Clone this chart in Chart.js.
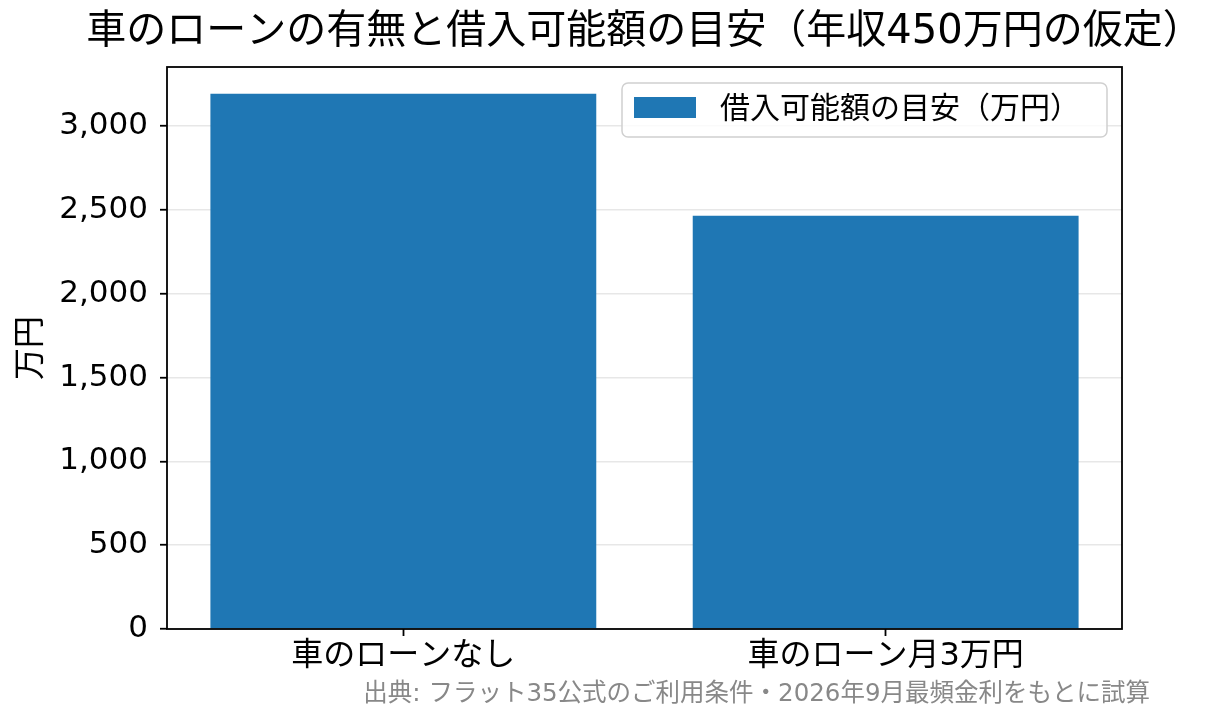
<!DOCTYPE html>
<html lang="ja">
<head>
<meta charset="utf-8">
<title>車のローンの有無と借入可能額の目安</title>
<script src="https://cdn.jsdelivr.net/npm/chart.js@4/dist/chart.umd.min.js"></script>
<style>
  html, body { margin: 0; padding: 0; background: #fff; }
  #chart { display: block; }
</style>
</head>
<body>
<canvas id="chart" width="1219" height="725"></canvas>
<script>
// data
const categories = ['車のローンなし', '車のローン月3万円'];
const borrowable = [3192, 2465];
const yTicks = [0, 500, 1000, 1500, 2000, 2500, 3000];
const seriesLabel = '借入可能額の目安（万円）';
const chartTitle = '車のローンの有無と借入可能額の目安（年収450万円の仮定）';
const sourceNote = '出典: フラット35公式のご利用条件・2026年9月最頻金利をもとに試算';

// latin glyphs from DejaVu, kana/kanji fall through to Noto CJK
const FONT = "'DejaVu Sans', 'Noto Sans CJK JP', sans-serif";
const BAR = '#1f77b4';

// title centred over the axes (wider than the plot, so not squeezed), frame, legend, source note
const extras = {
  id: 'extras',
  afterDraw(chart) {
    const ctx = chart.ctx;
    const a = chart.chartArea;
    ctx.save();
    // title
    ctx.fillStyle = '#000';
    ctx.font = '40px ' + FONT;
    ctx.textAlign = 'center';
    ctx.textBaseline = 'middle';
    ctx.fillText(chartTitle, (a.left + a.right) / 2, 33);

    // spines
    ctx.strokeStyle = '#000';
    ctx.lineWidth = 1.8;
    ctx.strokeRect(a.left, a.top, a.right - a.left, a.bottom - a.top);

    // legend
    const ds = chart.data.datasets[0];
    const bw = 485, bh = 54;
    const bx = a.right - 15 - bw, by = a.top + 16;
    ctx.beginPath();
    ctx.roundRect(bx, by, bw, bh, 6);
    ctx.fillStyle = 'rgba(255,255,255,0.8)';
    ctx.fill();
    ctx.strokeStyle = '#d0d0d0';
    ctx.lineWidth = 1.5;
    ctx.stroke();
    ctx.fillStyle = ds.backgroundColor;
    ctx.fillRect(bx + 12, by + 14, 62, 21);
    ctx.fillStyle = '#000';
    ctx.font = '30px ' + FONT;
    ctx.textAlign = 'left';
    ctx.fillText(ds.label, bx + 98, by + bh / 2);

    // source note
    ctx.fillStyle = '#888888';
    ctx.font = '24.5px ' + FONT;
    ctx.textAlign = 'right';
    ctx.fillText(sourceNote, 1150, 695);
    ctx.restore();
  }
};

new Chart(document.getElementById('chart'), {
  type: 'bar',
  data: {
    datasets: [{
      label: seriesLabel,
      data: borrowable.map((v, i) => ({ x: i, y: v })),
      backgroundColor: BAR,
      borderWidth: 0,
      barPercentage: 0.8,
      categoryPercentage: 1.0
    }]
  },
  options: {
    responsive: false,
    animation: false,
    devicePixelRatio: 1,
    layout: { padding: { left: 0, right: 97, top: 67, bottom: 0 } },
    plugins: {
      legend: { display: false },
      tooltip: { enabled: false },
      title: { display: false }
    },
    scales: {
      x: {
        type: 'linear',
        offset: false,
        min: -0.49,
        max: categories.length - 1 + 0.49,
        afterBuildTicks: s => { s.ticks = categories.map((_, i) => ({ value: i })); },
        afterFit: s => { s.height = 96; },
        grid: { offset: false, drawOnChartArea: false, drawTicks: true, tickLength: 7, tickColor: '#000', tickWidth: 1.8 },
        border: { display: false },
        ticks: {
          callback: v => categories[v],
          color: '#000',
          padding: 1,
          maxRotation: 0,
          autoSkip: false,
          font: { family: FONT, size: 32 }
        }
      },
      y: {
        min: 0,
        max: Math.max(...borrowable) * 1.05,
        z: 1,
        afterBuildTicks: s => { s.ticks = yTicks.map(v => ({ value: v })); },
        afterFit: s => { s.width = 167; },
        grid: { color: 'rgba(176,176,176,0.3)', lineWidth: 1.5, tickLength: 7, tickColor: '#000', tickWidth: 1.8 },
        border: { display: false },
        ticks: {
          callback: v => v.toLocaleString('en-US'),
          color: '#000',
          padding: 12,
          font: { family: FONT, size: 31 }
        },
        title: {
          display: true,
          text: '万円',
          color: '#000',
          font: { family: FONT, size: 32 },
          padding: { top: 12, bottom: 0 }
        }
      }
    }
  },
  plugins: [extras]
});
</script>
</body>
</html>
